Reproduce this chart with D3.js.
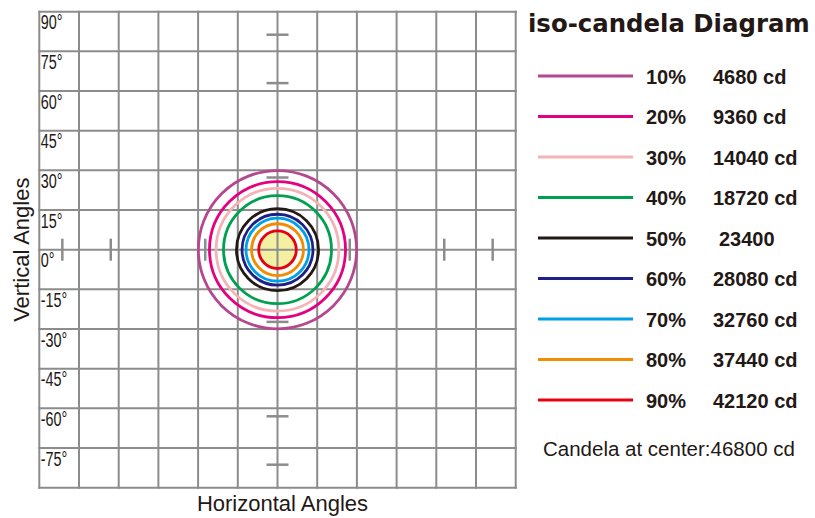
<!DOCTYPE html>
<html lang="en">
<head>
	<meta charset="utf-8">
	<title>iso-candela Diagram</title>
	<style>
		body { margin: 0; background: #fff; }
		svg { display: block; }
		.grid-line { stroke: #8c8c8c; stroke-width: 2; }
		.mark { stroke: #8c8c8c; stroke-width: 2.5; }
		.angle-label { font-family: 'Liberation Sans', Arial, sans-serif; font-size: 20px; fill: #231815; }
		.axis-title { font-family: 'Liberation Sans', Arial, sans-serif; font-size: 22px; fill: #231815; }
		.legend-text { font-family: 'Liberation Sans', Arial, sans-serif; font-size: 20px; font-weight: bold; fill: #231815; }
	</style>
</head>
<body>
	<svg width="815" height="518"></svg>

	<script src="https://d3js.org/d3.v7.min.js"></script>
	<script>
		// grid angles (degrees)
		var gridAngles = d3.range(-90, 91, 15);
		var rowLabels = ["90°", "75°", "60°", "45°", "30°", "15°", "0°", "-15°", "-30°", "-45°", "-60°", "-75°"];
		var rowValues = [90, 75, 60, 45, 30, 15, 0, -15, -30, -45, -60, -75];

		// small marks along the centre lines (degrees from centre)
		var markAngles = [-81.3, -63, -27.3, 27.3, 63, 81.3];

		// iso-candela levels
		var levels = ["10%", "20%", "30%", "40%", "50%", "60%", "70%", "80%", "90%"];
		var candela = ["4680 cd", "9360 cd", "14040 cd", "18720 cd", "23400", "28080 cd", "32760 cd", "37440 cd", "42120 cd"];
		var radiusDeg = [29.9, 25.7, 23.2, 20.4, 15.5, 13.4, 11.9, 9.8, 7.1];
		var colors = ["#b5478f", "#e4007f", "#f4b3b6", "#00a051", "#231815", "#1d2088", "#00a0e9", "#f18d00", "#e60012"];

		var centerLabel = "Candela at center:46800 cd";

		var svg = d3.select("svg");

		var x = d3.scaleLinear().domain([-90, 90]).range([39.3, 515.7]);
		var y = d3.scaleLinear().domain([90, -90]).range([11.7, 487.7]);

		// pale fill inside the 90% ring, under the grid
		svg.append("circle")
			.attr("cx", x(0))
			.attr("cy", y(0))
			.attr("r", x(radiusDeg[8]) - x(0))
			.style("fill", "#f4f0a2");

		// grid
		var grid = svg.append("g");
		grid.selectAll(".v").data(gridAngles)
			.enter().append("line")
			.attr("class", "grid-line")
			.attr("x1", function(d) { return x(d); })
			.attr("x2", function(d) { return x(d); })
			.attr("y1", y(90) - 1)
			.attr("y2", y(-90) + 1);
		grid.selectAll(".h").data(gridAngles)
			.enter().append("line")
			.attr("class", "grid-line")
			.attr("y1", function(d) { return y(d); })
			.attr("y2", function(d) { return y(d); })
			.attr("x1", x(-90) - 1)
			.attr("x2", x(90) + 1);

		// marks on the centre lines
		grid.selectAll(".mh").data(markAngles)
			.enter().append("line")
			.attr("class", "mark")
			.attr("x1", x(0) - 11)
			.attr("x2", x(0) + 11)
			.attr("y1", function(d) { return y(d); })
			.attr("y2", function(d) { return y(d); });
		grid.selectAll(".mv").data(markAngles)
			.enter().append("line")
			.attr("class", "mark")
			.attr("y1", y(0) - 11)
			.attr("y2", y(0) + 11)
			.attr("x1", function(d) { return x(d); })
			.attr("x2", function(d) { return x(d); });

		// iso-candela rings
		svg.append("g").selectAll("circle").data(radiusDeg)
			.enter().append("circle")
			.attr("cx", x(0))
			.attr("cy", y(0))
			.attr("r", function(d) { return x(d) - x(0); })
			.style("fill", "none")
			.style("stroke", function(d, i) { return colors[i]; })
			.style("stroke-width", 2.8);

		// row labels, narrow
		svg.append("g").selectAll("text").data(rowValues)
			.enter().append("text")
			.attr("class", "angle-label")
			.attr("x", x(-90) + 1.5)
			.attr("y", function(d) { return y(d) + 17.5; })
			.text(function(d, i) { return rowLabels[i]; })
			.each(function() {
				var w = this.getComputedTextLength();
				d3.select(this).attr("textLength", w * 0.72).attr("lengthAdjust", "spacingAndGlyphs");
			});

		// axis titles
		svg.append("text")
			.attr("class", "axis-title")
			.attr("text-anchor", "middle")
			.attr("x", 282.5)
			.attr("y", 510.5)
			.text("Horizontal Angles");
		svg.append("text")
			.attr("class", "axis-title")
			.attr("text-anchor", "middle")
			.attr("transform", "translate(28.5," + y(0) + ") rotate(-90)")
			.text("Vertical Angles");

		// title
		svg.append("text")
			.attr("x", 528)
			.attr("y", 32)
			.style("font-family", "'DejaVu Sans', sans-serif")
			.style("font-weight", "bold")
			.style("font-size", "24.4px")
			.style("fill", "#231815")
			.text("iso-candela Diagram");

		// legend
		var legend = svg.append("g").selectAll("g").data(levels)
			.enter().append("g")
			.attr("transform", function(d, i) { return "translate(0," + (76 + i * 40.5) + ")"; });

		legend.append("line")
			.attr("x1", 538).attr("x2", 633)
			.attr("y1", 0).attr("y2", 0)
			.style("stroke", function(d, i) { return colors[i]; })
			.style("stroke-width", 2.8);

		legend.append("text")
			.attr("class", "legend-text")
			.attr("x", 646)
			.attr("y", 7.5)
			.text(function(d) { return d; });

		legend.append("text")
			.attr("class", "legend-text")
			.attr("x", function(d, i) { return i == 4 ? 719 : 713; })
			.attr("y", 7.5)
			.text(function(d, i) { return candela[i]; });

		svg.append("text")
			.attr("x", 543)
			.attr("y", 456)
			.style("font-family", "'Liberation Sans', Arial, sans-serif")
			.style("font-size", "20.5px")
			.style("fill", "#231815")
			.text(centerLabel);
	</script>
</body>
</html>
